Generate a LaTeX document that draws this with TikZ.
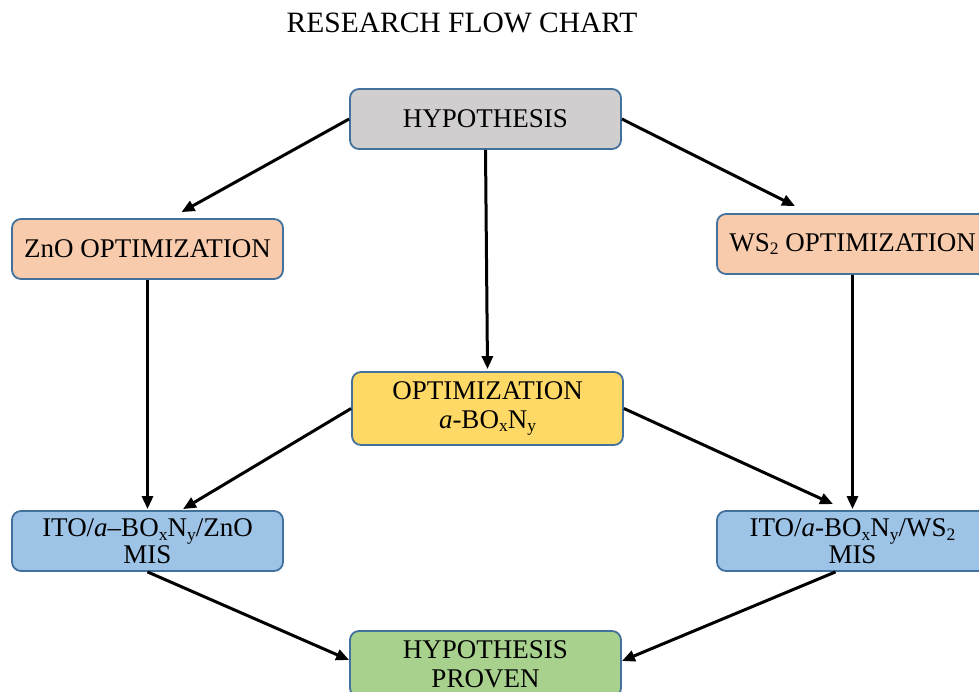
\documentclass[tikz,border=0pt]{standalone}
\usepackage{fontspec}
\setmainfont{Liberation Serif}
\usetikzlibrary{arrows.meta,calc}
\newcommand{\subs}[1]{\raisebox{-0.3ex}{\fontsize{17.5}{17.5}\selectfont #1}}
\definecolor{bordc}{HTML}{41719C}
\definecolor{grayf}{HTML}{D0CECE}
\definecolor{peachf}{HTML}{F8CBAD}
\definecolor{yellowf}{HTML}{FFD966}
\definecolor{bluef}{HTML}{9DC3E6}
\definecolor{greenf}{HTML}{A9D18E}
\tikzset{
  box/.style={draw=bordc, line width=1.8pt, rounded corners=9pt, minimum width=271pt, minimum height=60pt, inner sep=0pt, align=center, font=\fontsize{27}{29}\selectfont},
  arr/.style={line width=3pt, -{Triangle[length=13pt,width=11pt]}}
}
\begin{document}
\begin{tikzpicture}[x=1pt,y=-1pt]
\useasboundingbox (0,0) rectangle (979,692);
\node[font=\fontsize{29.5}{31}\selectfont] (title) at (462,23) {RESEARCH FLOW CHART};
\node[box, fill=grayf] (hyp) at (485.5,119) {HYPOTHESIS};
\node[box, fill=peachf] (zno) at (147.5,249) {ZnO OPTIMIZATION};
\node[box, fill=peachf] (ws2) at (852.5,244) {WS\subs{2} OPTIMIZATION};
\node[box, fill=yellowf, minimum height=73pt] (opt) at (487.5,408.5) {OPTIMIZATION\\\textit{a}-BO\subs{x}N\subs{y}};
\node[box, fill=bluef, font=\fontsize{27}{27}\selectfont] (znomis) at (147.5,541) {ITO/\textit{a}--BO\subs{x}N\subs{y}/ZnO\\MIS};
\node[box, fill=bluef, font=\fontsize{27}{27}\selectfont] (ws2mis) at (852.5,541) {ITO/\textit{a}-BO\subs{x}N\subs{y}/WS\subs{2}\\MIS};
\node[box, fill=greenf, minimum height=66pt] (proven) at (485.5,664) {HYPOTHESIS\\PROVEN};
\draw[arr] (hyp.west) -- ([xshift=34pt,yshift=6pt]zno.north);
\draw[arr] (hyp.south) -- ([xshift=2pt,yshift=2pt]opt.north -| hyp.south);
\draw[arr] (hyp.east) -- ([xshift=-57.5pt,yshift=7pt]ws2.north);
\draw[arr] (zno.south) -- ([yshift=1pt]znomis.north);
\draw[arr] (ws2.south) -- ([yshift=1pt]ws2mis.north);
\draw[arr] (opt.west) -- ([xshift=35.5pt,yshift=1pt]znomis.north);
\draw[arr] (opt.east) -- ([xshift=-19.5pt,yshift=6pt]ws2mis.north);
\draw[arr] (znomis.south) -- ([yshift=4pt]proven.west);
\draw[arr] ([xshift=-17pt]ws2mis.south) -- ([yshift=3pt]proven.east);
\end{tikzpicture}
\end{document}
